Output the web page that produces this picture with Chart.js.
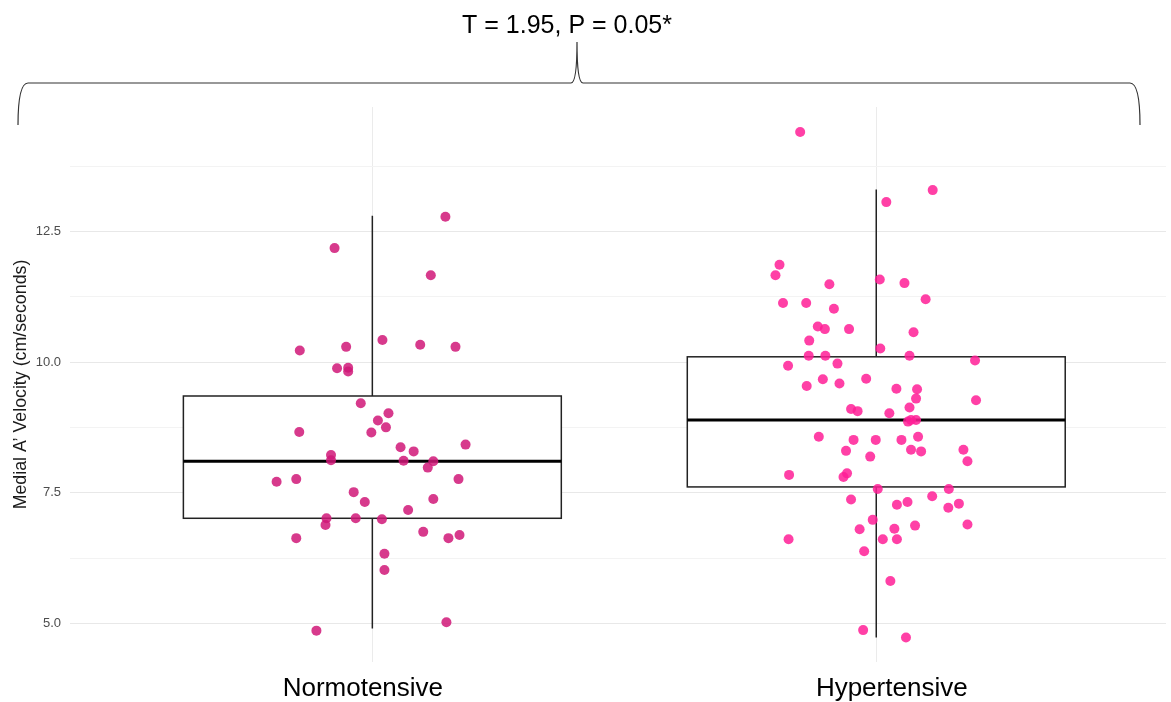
<!DOCTYPE html>
<html>
<head>
<meta charset="utf-8">
<script src="https://cdn.jsdelivr.net/npm/chart.js@4/dist/chart.umd.min.js"></script>
<style>
  html, body { margin: 0; padding: 0; background: #ffffff; }
  #wrap { width: 1171px; height: 702px; position: relative; }
</style>
</head>
<body>
<div id="wrap"><canvas id="c" width="1171" height="702"></canvas></div>
<script>
// Groups on the x axis
const categories = ['Normotensive', 'Hypertensive'];
// horizontal nudge of each group label, in pixels
const categoryLabelShift = [-9.5, 15.5];

// Medial A' velocity (cm/s), one entry per subject
const normotensiveValues = [12.78, 12.18, 11.66, 10.42, 10.33, 10.29, 10.29, 10.22, 9.88, 9.89,
  9.82, 9.21, 9.02, 8.88, 8.75, 8.66, 8.65, 8.42, 8.37, 8.29,
  8.22, 8.12, 8.11, 8.10, 7.98, 7.71, 7.76, 7.76, 7.51, 7.38,
  7.32, 7.17, 7.01, 7.01, 6.99, 6.88, 6.75, 6.63, 6.63, 6.69,
  6.33, 6.02, 5.02, 4.86];
// horizontal jitter of each subject, in category units
const normotensiveJitter = [0.145, -0.075, 0.116, 0.020, 0.095, 0.165, -0.052, -0.144, -0.070, -0.048,
  -0.048, -0.023, 0.032, 0.011, 0.027, -0.145, -0.002, 0.185, 0.056, 0.082,
  -0.082, -0.082, 0.062, 0.121, 0.110, -0.190, -0.151, 0.171, -0.037, 0.121,
  -0.015, 0.071, -0.091, -0.033, 0.019, -0.093, 0.101, -0.151, 0.151, 0.173,
  0.024, 0.024, 0.147, -0.111];

const hypertensiveValues = [14.40, 13.29, 13.06, 11.86, 11.66, 11.49, 11.58, 11.51, 11.20, 11.13,
  11.13, 11.02, 10.68, 10.63, 10.63, 10.57, 10.41, 10.26, 10.12, 10.12,
  10.12, 10.03, 9.93, 9.97, 9.68, 9.67, 9.59, 9.54, 9.49, 9.48,
  9.30, 9.27, 9.13, 9.10, 9.06, 9.02, 8.86, 8.89, 8.89, 8.57,
  8.51, 8.51, 8.51, 8.57, 8.30, 8.32, 8.29, 8.32, 8.19, 8.10,
  7.84, 7.87, 7.80, 7.57, 7.57, 7.43, 7.37, 7.27, 7.32, 7.21,
  7.29, 6.98, 6.80, 6.81, 6.87, 6.89, 6.61, 6.61, 6.61, 6.38,
  5.81, 4.87, 4.73];
const hypertensiveJitter = [-0.151, 0.112, 0.020, -0.192, -0.200, -0.093, 0.007, 0.056, 0.098, -0.185,
  -0.139, -0.084, -0.116, -0.102, -0.054, 0.074, -0.133, 0.008, -0.134, -0.101,
  0.066, 0.196, -0.175, -0.077, -0.020, -0.106, -0.073, -0.138, 0.040, 0.081,
  0.079, 0.198, 0.066, -0.050, -0.037, 0.026, 0.063, 0.069, 0.079, -0.114,
  -0.045, -0.001, 0.050, 0.083, -0.060, 0.069, 0.089, 0.173, -0.012, 0.181,
  -0.173, -0.058, -0.065, 0.003, 0.144, 0.111, -0.050, 0.041, 0.062, 0.143,
  0.164, -0.007, -0.033, 0.036, 0.077, 0.181, -0.174, 0.013, 0.041, -0.024,
  0.028, -0.026, 0.059];

// Box-plot summary per group
const boxQ1 = [7.01, 7.61];
const boxMedian = [8.10, 8.89];
const boxQ3 = [9.35, 10.10];
const whiskerLow = [4.90, 4.73];
const whiskerHigh = [12.80, 13.30];

// Y-axis ticks
const yTickValues = [5, 6.25, 7.5, 8.75, 10, 11.25, 12.5, 13.75];
const yTickLabels = ['5.0', '', '7.5', '', '10.0', '', '12.5', ''];

const testLabel = 'T = 1.95, P = 0.05*';
const yTitle = 'Medial A\u2019 Velocity (cm/seconds)';

const FONT = '"Liberation Sans", Arial, Helvetica, sans-serif';
Chart.defaults.font.family = FONT;

function toPoints(values, jitter, groupIndex) {
  return values.map((v, i) => ({ x: groupIndex + 1 + jitter[i], y: v }));
}

// Boxes and whiskers, drawn beneath the points
const boxPlotPlugin = {
  id: 'boxPlot',
  beforeDatasetsDraw(chart) {
    const { ctx, scales: { x, y } } = chart;
    ctx.save();
    categories.forEach((_, i) => {
      const cx = x.getPixelForValue(i + 1);
      const left = x.getPixelForValue(i + 1 - 0.375);
      const right = x.getPixelForValue(i + 1 + 0.375);
      const pQ1 = y.getPixelForValue(boxQ1[i]);
      const pQ3 = y.getPixelForValue(boxQ3[i]);
      const pMed = y.getPixelForValue(boxMedian[i]);
      const pLo = y.getPixelForValue(whiskerLow[i]);
      const pHi = y.getPixelForValue(whiskerHigh[i]);

      ctx.strokeStyle = '#222222';
      ctx.lineWidth = 1.5;
      ctx.beginPath();
      ctx.moveTo(cx, pQ3); ctx.lineTo(cx, pHi);
      ctx.moveTo(cx, pQ1); ctx.lineTo(cx, pLo);
      ctx.stroke();

      ctx.fillStyle = '#ffffff';
      ctx.fillRect(left, pQ3, right - left, pQ1 - pQ3);
      ctx.strokeRect(left, pQ3, right - left, pQ1 - pQ3);

      ctx.strokeStyle = '#000000';
      ctx.lineWidth = 3;
      ctx.beginPath();
      ctx.moveTo(left, pMed); ctx.lineTo(right, pMed);
      ctx.stroke();
    });
    ctx.restore();
  }
};

// Group names under the x axis
const groupLabelPlugin = {
  id: 'groupLabels',
  afterDraw(chart) {
    const { ctx, scales: { x }, chartArea } = chart;
    ctx.save();
    ctx.fillStyle = '#000000';
    ctx.font = '26px ' + FONT;
    ctx.textAlign = 'center';
    ctx.textBaseline = 'alphabetic';
    categories.forEach((name, i) => {
      ctx.fillText(name, x.getPixelForValue(i + 1) + categoryLabelShift[i], chartArea.bottom + 34);
    });
    ctx.restore();
  }
};

// Comparison bracket with the test result above it
const bracketPlugin = {
  id: 'bracket',
  afterDraw(chart) {
    const { ctx } = chart;
    const x0 = 18, x1 = 1140, xm = 577, yLine = 83, yEnd = 125, yTip = 42, r = 10;
    ctx.save();
    ctx.strokeStyle = '#333333';
    ctx.lineWidth = 1.2;
    ctx.beginPath();
    ctx.moveTo(x0, yEnd);
    ctx.quadraticCurveTo(x0, yLine, x0 + r, yLine);
    ctx.lineTo(xm - 6, yLine);
    ctx.quadraticCurveTo(xm, yLine, xm, yTip);
    ctx.quadraticCurveTo(xm, yLine, xm + 6, yLine);
    ctx.lineTo(x1 - r, yLine);
    ctx.quadraticCurveTo(x1, yLine, x1, yEnd);
    ctx.stroke();

    ctx.fillStyle = '#000000';
    ctx.font = '25px ' + FONT;
    ctx.textAlign = 'center';
    ctx.textBaseline = 'middle';
    ctx.fillText(testLabel, 567, 26);
    ctx.restore();
  }
};

new Chart(document.getElementById('c'), {
  type: 'scatter',
  data: {
    datasets: [
      {
        label: categories[0],
        data: toPoints(normotensiveValues, normotensiveJitter, 0),
        backgroundColor: 'rgba(208, 24, 120, 0.85)',
        borderWidth: 0,
        pointRadius: 5,
        pointHoverRadius: 5
      },
      {
        label: categories[1],
        data: toPoints(hypertensiveValues, hypertensiveJitter, 1),
        backgroundColor: 'rgba(255, 30, 150, 0.85)',
        borderWidth: 0,
        pointRadius: 5,
        pointHoverRadius: 5
      }
    ]
  },
  options: {
    responsive: false,
    animation: false,
    devicePixelRatio: 1,
    layout: { padding: { top: 107, left: 0, right: 0, bottom: 0 } },
    plugins: {
      legend: { display: false },
      tooltip: { enabled: false }
    },
    scales: {
      x: {
        type: 'linear',
        min: 0.4,
        max: 2.575,
        afterBuildTicks(scale) {
          scale.ticks = categories.map((_, i) => ({ value: i + 1 }));
        },
        afterFit(scale) { scale.height = 40; },
        ticks: { display: false },
        grid: { color: '#ebebeb', lineWidth: 1, drawTicks: false },
        border: { display: false }
      },
      y: {
        min: 4.26,
        max: 14.88,
        afterBuildTicks(scale) {
          scale.ticks = yTickValues.map(v => ({ value: v }));
        },
        afterFit(scale) { scale.width = 70; },
        ticks: {
          autoSkip: false,
          padding: 9,
          color: '#4d4d4d',
          font: { size: 13 },
          callback: (v) => {
            const i = yTickValues.indexOf(v);
            return i >= 0 ? yTickLabels[i] : '';
          }
        },
        grid: {
          drawTicks: false,
          color: (c) => (yTickLabels[yTickValues.indexOf(c.tick.value)] ? '#e8e8e8' : '#f3f3f3'),
          lineWidth: 1
        },
        border: { display: false },
        title: {
          display: true,
          text: yTitle,
          color: '#1a1a1a',
          font: { size: 17.8 },
          padding: { top: 10, bottom: 0 }
        }
      }
    }
  },
  plugins: [boxPlotPlugin, groupLabelPlugin, bracketPlugin]
});
</script>
</body>
</html>
